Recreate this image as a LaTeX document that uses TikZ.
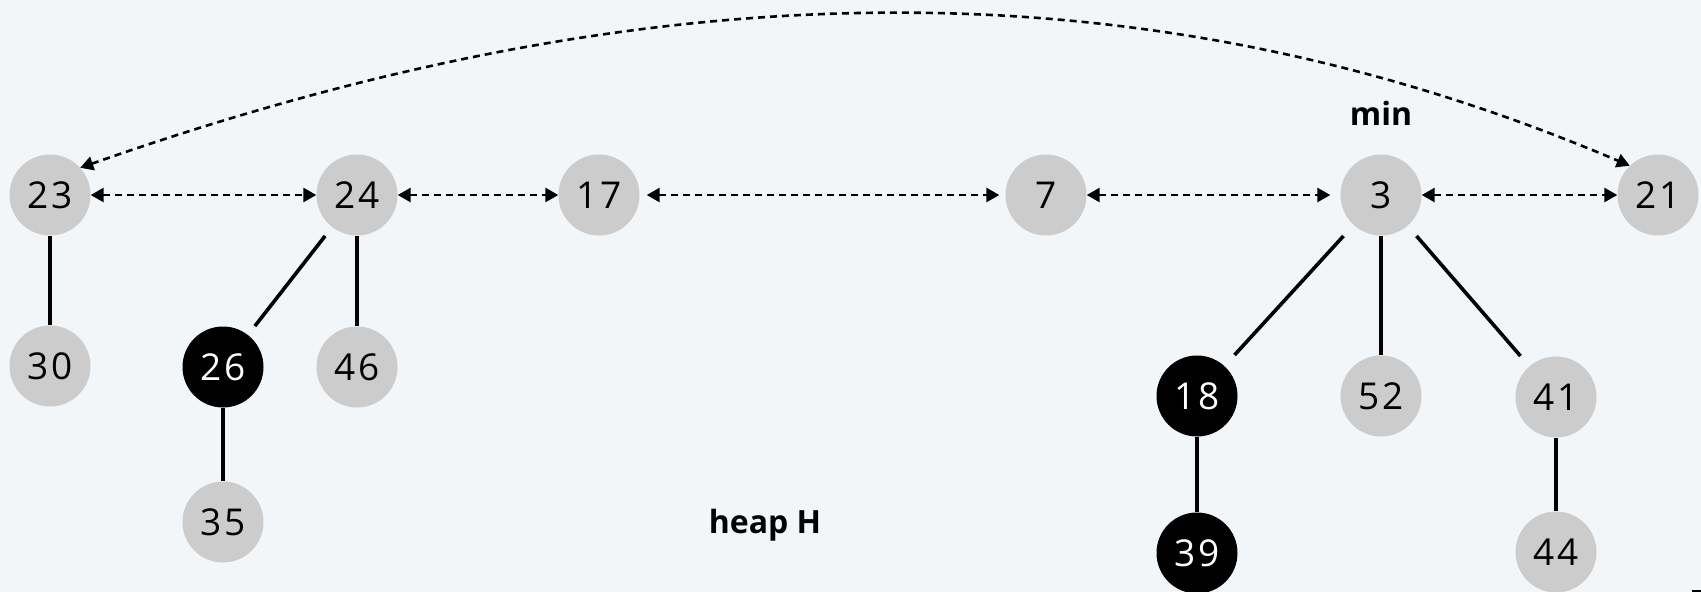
\documentclass[tikz,border=0pt]{standalone}
\usepackage{fontspec}
\setmainfont{Open Sans}
\newfontfamily\digitfont[LetterSpace=6]{Open Sans}
\usetikzlibrary{arrows.meta,calc}
\definecolor{bgc}{RGB}{242,246,249}
\definecolor{nodegray}{RGB}{204,204,204}
\tikzset{
  hnode/.style={circle,minimum size=81pt,inner sep=0pt,fill=nodegray,text=black,font=\digitfont\fontsize{37}{44}\selectfont},
  mnode/.style={hnode,fill=black,text=white},
  treeedge/.style={line width=3.6pt,line cap=butt},
  sibling/.style={line width=2.6pt,dash pattern=on 7pt off 5pt,
    {Triangle[length=13pt,width=14pt]}-{Triangle[length=13pt,width=14pt]}},
  lbl/.style={font=\bfseries\fontsize{32}{36}\selectfont,inner sep=0pt}
}
\newcommand\heapedge[3]{\draw[treeedge] ($(#1)!#3!(#2)$) -- ($(#2)!#3!(#1)$);}
\begin{document}
\begin{tikzpicture}[x=1pt,y=-1pt]
\fill[bgc] (0,0) rectangle (1701,592);
\useasboundingbox (0,0) rectangle (1701,592);
% roots
\node[hnode] (n23) at (50,195) {23};
\node[hnode] (n24) at (357,195) {24};
\node[hnode] (n17) at (599,195) {17};
\node[hnode] (n7) at (1046,195) {7};
\node[hnode] (n3) at (1381,195) {3};
\node[hnode] (n21) at (1658,195) {21};
% children
\node[hnode] (n30) at (50,366) {30};
\node[mnode] (n26) at (223,367) {26};
\node[hnode] (n46) at (357,367) {46};
\node[hnode] (n35) at (223,522) {35};
\node[mnode] (n18) at (1197,396) {18};
\node[hnode] (n52) at (1381,396) {52};
\node[hnode] (n41) at (1556,397) {41};
\node[mnode] (n39) at (1197,553) {39};
\node[hnode] (n44) at (1556,552) {44};
% labels
\node[lbl,anchor=base] (minlbl) at (1381,125) {min};
\node[lbl,anchor=base] (heaplbl) at (765,533) {heap H};
% tree edges
\heapedge{n23}{n30}{0.240}
\heapedge{n24}{n26}{0.238}
\heapedge{n24}{n46}{0.238}
\heapedge{n26}{n35}{0.265}
\heapedge{n3}{n18}{0.204}
\heapedge{n3}{n52}{0.204}
\heapedge{n3}{n41}{0.203}
\heapedge{n18}{n39}{0.261}
\heapedge{n41}{n44}{0.265}
% root list
\draw[sibling] (n23.east) -- (n24.west);
\draw[sibling] (n24.east) -- (n17.west);
\draw[sibling,shorten <=7pt,shorten >=6pt] (n17.east) -- (n7.west);
\draw[sibling,shorten >=10pt] (n7.east) -- (n3.west);
\draw[sibling] (n3.east) -- (n21.west);
\draw[sibling] (n23.42) .. controls +(580,-204) and +(-480,-204) .. (n21.134);
% corner mark
\fill[black] (1692,590) rectangle (1701,592);
\end{tikzpicture}
\end{document}
